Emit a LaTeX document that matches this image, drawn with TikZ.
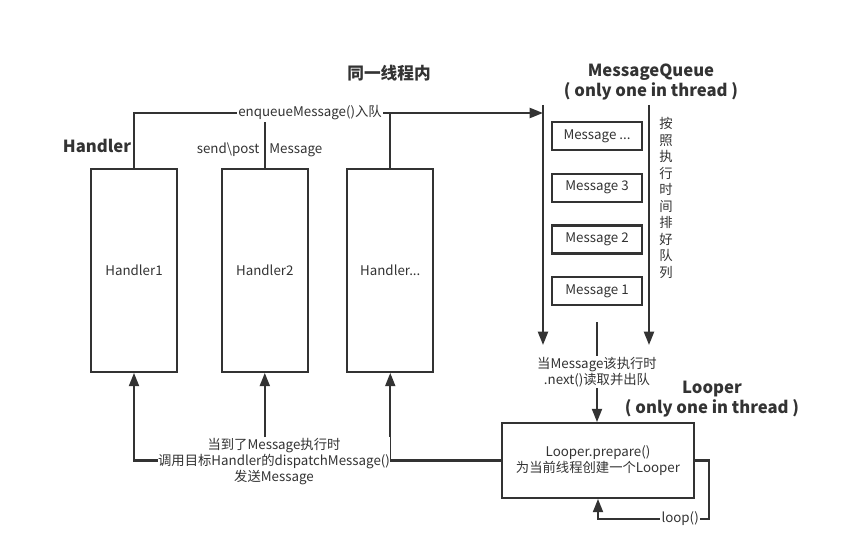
\documentclass[tikz,border=0pt]{standalone}
\usepackage{fontspec}
\setmainfont{Noto Sans CJK SC}
\usetikzlibrary{arrows.meta, positioning}
\definecolor{InkGray}{RGB}{51,51,51}

\begin{document}
\begin{tikzpicture}[
        x=0.75pt, y=-0.75pt,
        every node/.style={font=\fontsize{10}{12}\selectfont, text=InkGray},
        hbox/.style={rectangle, draw=InkGray, line width=1.6pt, minimum width=64.5pt, minimum height=152pt},
        msgbox/.style={rectangle, draw=InkGray, line width=1.6pt, minimum width=67.5pt, minimum height=21pt},
        loopbox/.style={rectangle, draw=InkGray, line width=1.6pt, minimum width=144pt, minimum height=56pt, align=center},
        heading/.style={font=\fontsize{12.5}{15}\selectfont\bfseries, align=center},
        lbl/.style={fill=white, inner sep=1pt, align=center},
        wire/.style={draw=InkGray, line width=1.6pt},
        arrow/.style={wire, -{Triangle[length=10pt,width=7.5pt]}}
    ]
    \useasboundingbox (0,0) rectangle (853,549);

    % Nodes
    \node[hbox] (h1) at (134,270.5) {Handler1};
    \node[hbox, right=32pt of h1] (h2) {Handler2};
    \node[hbox, right=28pt of h2] (h3) {Handler...};

    \node[msgbox] (msgN) at (597,136) {Message ...};
    \node[msgbox, below=16.2pt of msgN] (msg3) {Message 3};
    \node[msgbox, below=16.2pt of msg3] (msg2) {Message 2};
    \node[msgbox, below=16.2pt of msg2] (msg1) {Message 1};

    \node[loopbox] (looper) at (598,460.5) {Looper.prepare()\\为当前线程创建一个Looper};

    \coordinate (qlt) at (543,105);
    \coordinate (qlb) at (543,345);
    \coordinate (qrt) at (649,105);
    \coordinate (qrb) at (649,345);
    \coordinate (enq) at (543,113);
    \coordinate (qmid) at (597,322);
    \coordinate (lp) at (709,519);

    % Arrows
    \draw[arrow] (qlt) -- (qlb);
    \draw[arrow] (qrt) -- (qrb);
    \draw[arrow] (h1.north) |- (enq);
    \draw[wire] (h2.north) -- (h2.north |- enq);
    \draw[wire] (h3.north) -- (h3.north |- enq);
    \draw[arrow] (qmid) -- node[lbl] {当Message该执行时\\.next()读取并出队} (qmid |- looper.north);
    \draw[arrow] (looper.east) -| (lp) -| node[lbl, pos=0.13] {loop()} (looper.south);
    \draw[arrow] (looper.west) -| (h3.south);
    \draw[arrow] (looper.west) -| (h1.south);
    \node[lbl, inner xsep=0pt] (dispatch) at (274,462) {当到了Message执行时\\调用目标Handler的dispatchMessage()\\发送Message};
    \draw[arrow] (dispatch.north -| h2.south) -- (h2.south);

    % Label
    \node[lbl] (enqlabel) at (310,113) {enqueueMessage()入队};
    \node (sendlabel) at (259.5,150) {send\textbackslash post\hspace{7.5pt}Message};
    \node[heading] (hlabel) at (97,146) {Handler};
    \node[heading] (thread) at (389,73) {同一线程内};
    \node[heading] (qtitle) at (651,82) {MessageQueue\\( only one in thread )};
    \node[heading] (ltitle) at (712,399.5) {Looper\\( only one in thread )};
    \node[align=center, font=\fontsize{10}{12.4}\selectfont] (order) at (666,198) {按\\照\\执\\行\\时\\间\\排\\好\\队\\列};
\end{tikzpicture}
\end{document}
